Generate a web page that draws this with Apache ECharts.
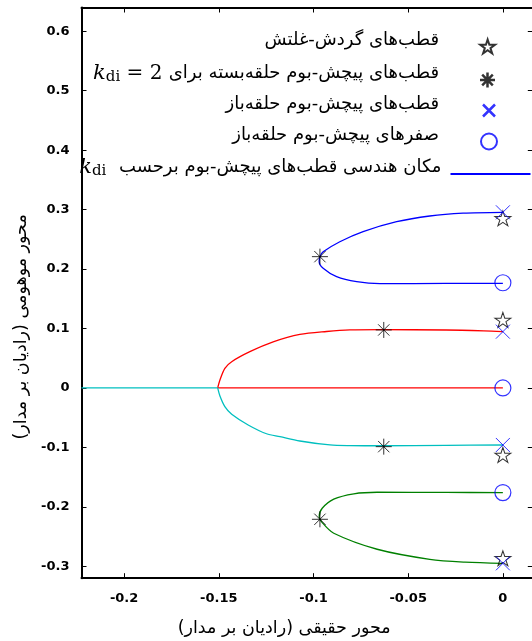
<!DOCTYPE html>
<html><head><meta charset="utf-8">
<script src="https://cdn.jsdelivr.net/npm/echarts@6/dist/echarts.min.js"></script>
<style>html,body{margin:0;padding:0;background:#fff}#c{width:532px;height:641px}</style>
</head><body><div id="c"></div>
<script>
// ---- data ----
const xRange = [-0.2225, 0.0158];
const yRange = [-0.32, 0.64];
const xStep = 0.05;
const yStep = 0.1;

const nameRollYaw = 'قطب‌های گردش-غلتش';
const nameClosed = 'قطب‌های پیچش-بوم حلقه‌بسته برای';
const nameOpenPoles = 'قطب‌های پیچش-بوم حلقه‌باز';
const nameOpenZeros = 'صفرهای پیچش-بوم حلقه‌باز';
const nameLocus = 'مکان هندسی قطب‌های پیچش-بوم برحسب';
const xTitle = 'محور حقیقی (رادیان بر مدار)\u200F';
const yTitle = 'محور موهومی (رادیان بر مدار)\u200F';

const blueLocus = [[0,0.2955],[-0.021,0.294],[-0.0386,0.2893],[-0.0561,0.2797],[-0.0738,0.263],[-0.0861,0.246],[-0.0949,0.229],[-0.0966,0.2209],[-0.097,0.2125],[-0.0949,0.2013],[-0.0878,0.1872],[-0.0772,0.1788],[-0.0649,0.1755],[-0.03,0.1758],[0,0.176]];
const redAxisPart = [[0,0],[-0.1506,0]];
const redLocus = [[-0.1506,0],[-0.1494,0.0135],[-0.1468,0.0331],[-0.1432,0.0442],[-0.1336,0.061],[-0.1213,0.0775],[-0.1072,0.09],[-0.0931,0.095],[-0.0808,0.0976],[-0.0649,0.098],[-0.03,0.0975],[-0.01,0.096],[0,0.0947]];
const cyanAxisPart = [[-0.2225,0],[-0.1506,0]];
const cyanLocus = [[-0.1506,0],[-0.1494,-0.0135],[-0.1468,-0.0314],[-0.1432,-0.0442],[-0.1345,-0.0622],[-0.1248,-0.077],[-0.1177,-0.0819],[-0.1072,-0.0892],[-0.0913,-0.0959],[-0.0808,-0.097],[-0.0649,-0.0972],[-0.03,-0.0965],[0,-0.0959]];
const greenLocus = [[0,-0.176],[-0.03,-0.1757],[-0.0664,-0.1754],[-0.0787,-0.178],[-0.0893,-0.187],[-0.0954,-0.2024],[-0.097,-0.2165],[-0.0955,-0.226],[-0.0893,-0.2444],[-0.0664,-0.2713],[-0.0386,-0.2882],[-0.02,-0.293],[0,-0.295]];

const rollYawPoles = [[0,0.2854],[0,0.1144],[0,-0.1127],[0,-0.2865]];
const closedLoopPoles = [[-0.0966,0.2209],[-0.0629,0.0976],[-0.0629,-0.0987],[-0.0966,-0.2209]];
const openLoopPoles = [[0,0.2955],[0,0.0947],[0,-0.0959],[0,-0.295]];
const openLoopZeros = [[0,0.177],[0,0],[0,-0.176]];

// ---- styles ----
const STAR = 'path://M0,-1L0.2245,-0.309L0.951,-0.309L0.363,0.118L0.588,0.809L0,0.382L-0.588,0.809L-0.363,0.118L-0.951,-0.309L-0.2245,-0.309Z';
const AST = 'path://M0,-1L0,1M-1,0L1,0M-0.707,-0.707L0.707,0.707M-0.707,0.707L0.707,-0.707';
const CROSS = 'path://M-1,-1L1,1M-1,1L1,-1';
const FA = 'DejaVu Sans';
const TEXT_RIGHT = 441.5;

const rich = {
  fa: {fontFamily: FA, fontSize: 18, lineHeight: 22, color: '#000'},
  k: {fontFamily: 'DejaVu Serif', fontStyle: 'italic', fontSize: 21, lineHeight: 22, color: '#000'},
  sub: {fontFamily: 'DejaVu Serif', fontSize: 15, lineHeight: 14, padding: [8,0,0,0], color: '#000'},
  eq: {fontFamily: 'DejaVu Serif', fontSize: 20, lineHeight: 22, color: '#000'}
};
function fmt(name) {
  if (name === nameClosed) return '{k|k}{sub|di}{eq| = 2 }{fa|' + name + '}';
  if (name === nameLocus) return '{k|k}{sub|di}{eq|  }{fa|' + name + '}';
  return '{fa|' + name + '}';
}
function leg(name, cx, top, w, h, extra) {
  const o = {
    data: [name], right: 532 - (cx + w / 2), top: top,
    itemWidth: w, itemHeight: h, align: 'right', orient: 'horizontal', padding: 0,
    selectedMode: false, formatter: fmt,
    textStyle: {padding: [0, (cx - w / 2 - 5) - TEXT_RIGHT, 13, 0], rich: rich}
  };
  return Object.assign(o, extra);
}

const tickLabel = {fontFamily: FA, fontWeight: 'bold', fontSize: 13, color: '#000'};
const axisCommon = {
  type: 'value', splitLine: {show: false},
  axisLine: {show: true, onZero: false, lineStyle: {color: '#000', width: 2}},
  axisTick: {show: true, inside: true, length: 5, lineStyle: {color: '#000', width: 1}}
};
function locusSeries(name, data, color, smooth) {
  return {name: name, type: 'line', data: data, symbol: 'none', showSymbol: false, silent: true,
    smooth: smooth, lineStyle: {color: color, width: 1.3}, itemStyle: {color: color}, z: 2};
}

const chart = echarts.init(document.getElementById('c'), null, {renderer: 'canvas'});
chart.setOption({
  animation: false,
  backgroundColor: '#fff',
  textStyle: {fontFamily: FA},
  grid: {left: 81.5, top: 7.5, width: 451.3, height: 570.7, containLabel: false, outerBoundsMode: 'none'},
  xAxis: [
    Object.assign({}, axisCommon, {
      position: 'bottom', min: xRange[0], max: xRange[1], minInterval: xStep, maxInterval: xStep,
      axisLabel: Object.assign({margin: 14, showMinLabel: false, showMaxLabel: false}, tickLabel),
      name: xTitle, nameLocation: 'middle', nameGap: 41, nameMoveOverlap: false,
      nameTextStyle: {fontFamily: FA, fontSize: 17.5, color: '#000', padding: [0, 46, 0, 0]}
    }),
    Object.assign({}, axisCommon, {
      position: 'top', min: xRange[0], max: xRange[1], minInterval: xStep, maxInterval: xStep,
      axisLabel: {show: false}
    })
  ],
  yAxis: [
    Object.assign({}, axisCommon, {
      position: 'left', min: yRange[0], max: yRange[1], minInterval: yStep, maxInterval: yStep,
      axisLabel: Object.assign({margin: 12, showMinLabel: false, showMaxLabel: false}, tickLabel),
      name: yTitle, nameLocation: 'middle', nameRotate: 90, nameGap: 51, nameMoveOverlap: false,
      nameTextStyle: {fontFamily: FA, fontSize: 17.5, color: '#000', padding: [0, 68, 0, 0]}
    }),
    Object.assign({}, axisCommon, {
      position: 'right', min: yRange[0], max: yRange[1], minInterval: yStep, maxInterval: yStep,
      axisLabel: {show: false}
    })
  ],
  legend: [
    leg(nameRollYaw, 490, 31, 15, 14, {itemStyle: {color: 'none', borderColor: '#000', borderWidth: 2}}),
    leg(nameClosed, 490, 62, 15, 15, {itemStyle: {color: 'none', borderColor: '#000', borderWidth: 2.5}}),
    leg(nameOpenPoles, 491.5, 95, 12, 12, {itemStyle: {color: 'none', borderColor: '#0000ff', borderWidth: 2.5}}),
    leg(nameOpenZeros, 491.5, 126, 16, 16, {itemStyle: {color: 'none', borderColor: '#0000ff', borderWidth: 2}}),
    leg(nameLocus, 490.5, 156, 80, 2, {icon: 'rect', itemStyle: {color: '#0000ff', borderWidth: 0}})
  ],
  series: [
    locusSeries(nameLocus, blueLocus, '#0000ff', 0.3),
    locusSeries('red-axis', redAxisPart, '#ff0000', false),
    locusSeries('red', redLocus, '#ff0000', 0.3),
    locusSeries('cyan-axis', cyanAxisPart, '#00bfbf', false),
    locusSeries('cyan', cyanLocus, '#00bfbf', 0.3),
    locusSeries('green', greenLocus, '#008000', 0.3),
    {name: nameRollYaw, type: 'scatter', data: rollYawPoles, symbol: STAR, symbolSize: [16, 15], silent: true, z: 5,
     itemStyle: {color: 'none', borderColor: '#000', borderWidth: 1}},
    {name: nameClosed, type: 'scatter', data: closedLoopPoles, symbol: AST, symbolSize: 16, silent: true, z: 5,
     itemStyle: {color: 'none', borderColor: '#000', borderWidth: 1}},
    {name: nameOpenPoles, type: 'scatter', data: openLoopPoles, symbol: CROSS, symbolSize: 14, silent: true, z: 5,
     itemStyle: {color: 'none', borderColor: '#0000ff', borderWidth: 1}},
    {name: nameOpenZeros, type: 'scatter', data: openLoopZeros, symbol: 'circle', symbolSize: 16, silent: true, z: 5,
     itemStyle: {color: 'none', borderColor: '#0000ff', borderWidth: 1.2}}
  ]
});
</script></body></html>
